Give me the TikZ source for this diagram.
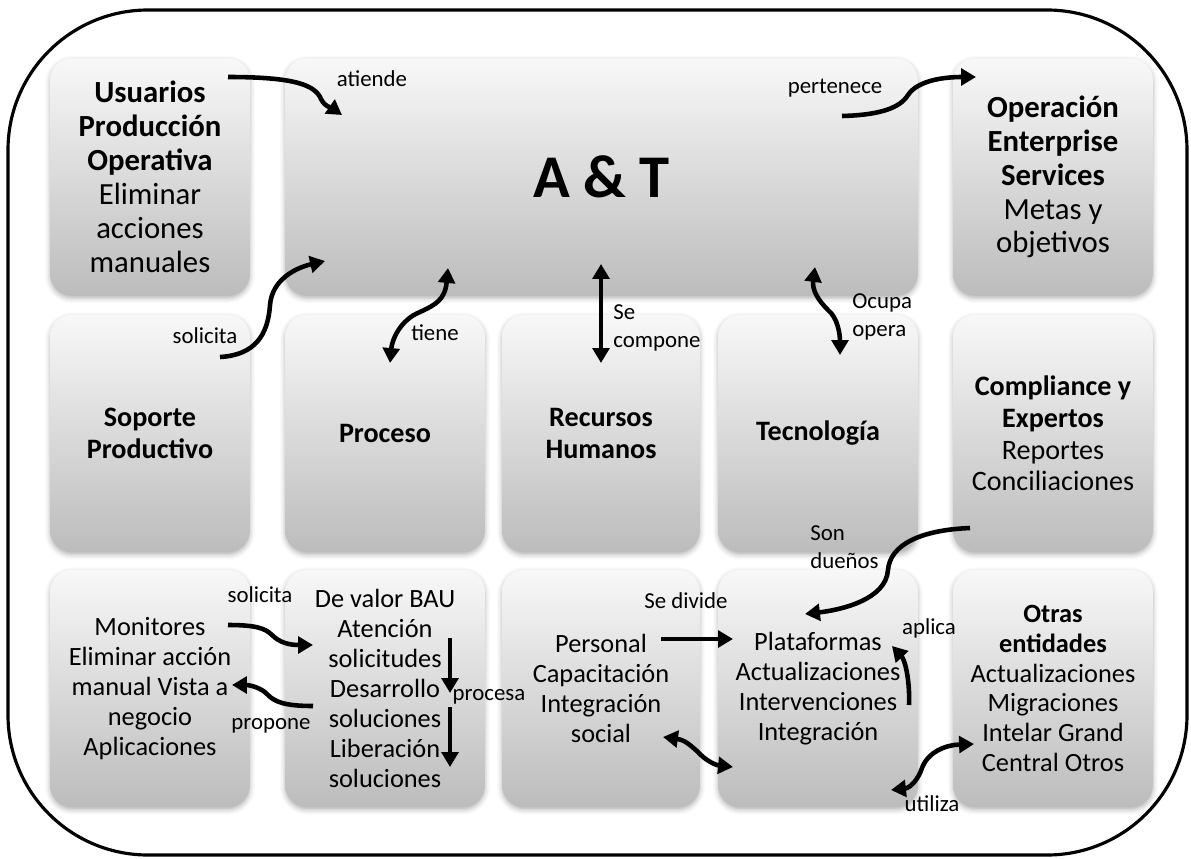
\documentclass[tikz,border=0pt]{standalone}
\usepackage{fontspec}
\setmainfont{Carlito}
\usetikzlibrary{arrows.meta,shadows.blur}
\definecolor{cardtop}{HTML}{F8F8F8}
\definecolor{cardbot}{HTML}{BCBCBC}
\tikzset{
  card/.style={rectangle, rounded corners=0.44cm, minimum width=4cm,
    minimum height=4.75cm, inner sep=0pt, top color=cardtop, bottom color=cardbot,
    blur shadow={shadow xshift=0pt, shadow yshift=-0.05cm,
      shadow blur radius=0.1cm, shadow opacity=30}, align=center},
  txtA/.style={font=\fontsize{17.5}{19.3}\selectfont},
  txtB/.style={font=\fontsize{16}{18.1}\selectfont},
  txtC/.style={font=\fontsize{15}{17}\selectfont},
  lbl/.style={font=\fontsize{13}{16.3}\selectfont, inner sep=0pt},
  link/.style={line width=2.6pt, -{Triangle[length=8.5pt,width=9.5pt]}},
  dlink/.style={line width=2.6pt,
    {Triangle[length=8.5pt,width=9.5pt]}-{Triangle[length=8.5pt,width=9.5pt]}},
}
\begin{document}
\begin{tikzpicture}[x=0.02cm, y=-0.02cm]
\useasboundingbox (0,0) rectangle (1191,859);

% outer frame
\draw[line width=1.8pt, rounded corners=2.8cm] (8,10) rectangle (1187,855);

% top row
\node[card, txtA] (usr) at (150,177)
  {\textbf{Usuarios}\\\textbf{Producción}\\\textbf{Operativa}\\Eliminar\\acciones\\manuales};
\node[card, minimum width=12.66cm, font=\fontsize{34.5}{40}\selectfont\bfseries] (at) at (601.5,177) {A \& T};
\node[card, txtA] (ops) at (1053,177)
  {\textbf{Operación}\\\textbf{Enterprise}\\\textbf{Services}\\Metas y\\objetivos};

% middle row
\node[card, txtB] (sop) at (150,433.5) {\textbf{Soporte}\\\textbf{Productivo}};
\node[card, txtB] (pro) at (385,433.5) {\textbf{Proceso}};
\node[card, txtB, minimum width=3.96cm] (rh) at (601,433.5) {\textbf{Recursos}\\\textbf{Humanos}};
\node[card, txtB] (tec) at (818,433.5) {\textbf{Tecnología}};
\node[card, txtB] (cmp) at (1053,433.5)
  {\textbf{Compliance y}\\\textbf{Expertos}\\Reportes\\Conciliaciones};

% bottom row
\node[card, txtC] (mon) at (150,688.5)
  {Monitores\\Eliminar acción\\manual Vista a\\negocio\\Aplicaciones};
\node[card, txtC] (bau) at (385,688.5)
  {De valor BAU\\Atención\\solicitudes\\Desarrollo\\soluciones\\Liberación\\soluciones};
\node[card, txtC, minimum width=3.96cm] (per) at (601,688.5)
  {Personal\\Capacitación\\Integración\\social};
\node[card, txtC] (pla) at (818,688.5)
  {Plataformas\\Actualizaciones\\Intervenciones\\Integración};
\node[card, txtC] (otr) at (1053,688.5)
  {\textbf{Otras}\\\textbf{entidades}\\Actualizaciones\\Migraciones\\Intelar Grand\\Central Otros};

% connector end points
\coordinate (atiS) at (228,77);   \coordinate (atiE) at (342,115);
\coordinate (solS) at (220,357);  \coordinate (solE) at (325,261);
\coordinate (tieA) at (448,268);  \coordinate (tieB) at (390,363);
\coordinate (comA) at (601,264);  \coordinate (comB) at (601,363);
\coordinate (ocuA) at (815,267);  \coordinate (ocuB) at (840,355);
\coordinate (perS) at (842,116);  \coordinate (perE) at (976,77);
\coordinate (sonS) at (970,528);  \coordinate (sonE) at (805,614);
\coordinate (so2S) at (228,625);  \coordinate (so2E) at (313,645);
\coordinate (prpS) at (313,706);  \coordinate (prpE) at (232,685);
\coordinate (pc1S) at (450,638);  \coordinate (pc1E) at (450,693);
\coordinate (pc2S) at (450,707);  \coordinate (pc2E) at (450,767);
\coordinate (divS) at (661,639);  \coordinate (divE) at (733,639);
\coordinate (apS)  at (909,705);  \coordinate (apE)  at (892,646);
\coordinate (intA) at (663,737);  \coordinate (intB) at (733,767);
\coordinate (utA)  at (891,790);  \coordinate (utB)  at (974,744);

% connectors
\draw[link] (atiS) .. controls (295,77) and (315,85) .. (321,99)
               .. controls (325,107) and (332,108) .. (atiE);
\draw[link] (solS) .. controls (255,355) and (268,335) .. (270,305)
               .. controls (272,280) and (295,268) .. (solE);
\draw[dlink] (tieA) .. controls (445,300) and (435,305) .. (420,312)
                .. controls (400,320) and (392,340) .. (tieB);
\draw[dlink] (comA) -- (comB);
\draw[dlink] (ocuA) .. controls (812,290) and (818,300) .. (828,310)
                .. controls (838,318) and (840,335) .. (ocuB);
\draw[link] (perS) .. controls (880,115) and (900,108) .. (908,95)
               .. controls (918,80) and (945,77) .. (perE);
\draw[link] (sonS) .. controls (920,530) and (890,545) .. (888,570)
               .. controls (886,600) and (840,610) .. (sonE);
\draw[link] (so2S) .. controls (255,625) and (265,628) .. (272,635)
               .. controls (280,643) and (290,645) .. (so2E);
\draw[link] (prpS) .. controls (285,706) and (275,702) .. (268,695)
               .. controls (262,688) and (250,685) .. (prpE);
\draw[link] (pc1S) -- (pc1E);
\draw[link] (pc2S) -- (pc2E);
\draw[link] (divS) -- (divE);
\draw[link] (apS) .. controls (910,680) and (905,660) .. (apE);
\draw[dlink] (intA) .. controls (685,740) and (690,745) .. (698,752)
                .. controls (705,760) and (715,765) .. (intB);
\draw[dlink] (utA) .. controls (910,788) and (918,780) .. (922,768)
                .. controls (928,752) and (945,745) .. (utB);

% connector labels
\node[lbl] (l1) at (372,79) {atiende};
\node[lbl] (l2) at (205,336) {solicita};
\node[lbl] (l3) at (435,333) {tiene};
\node[lbl, anchor=west, align=left] (l4) at (613,328) {Se\\compone};
\node[lbl, anchor=west, align=left] (l5) at (852,317) {Ocupa\\opera};
\node[lbl] (l6) at (835,88) {pertenece};
\node[lbl, anchor=west, align=left] (l7) at (810,547) {Son\\dueños};
\node[lbl] (l8) at (260,595) {solicita};
\node[lbl] (l9) at (271,726) {propone};
\node[lbl] (l10) at (489,697) {procesa};
\node[lbl] (l11) at (686,601) {Se divide};
\node[lbl] (l12) at (929,628) {aplica};
\node[lbl] (l13) at (932,804) {utiliza};
\end{tikzpicture}
\end{document}
